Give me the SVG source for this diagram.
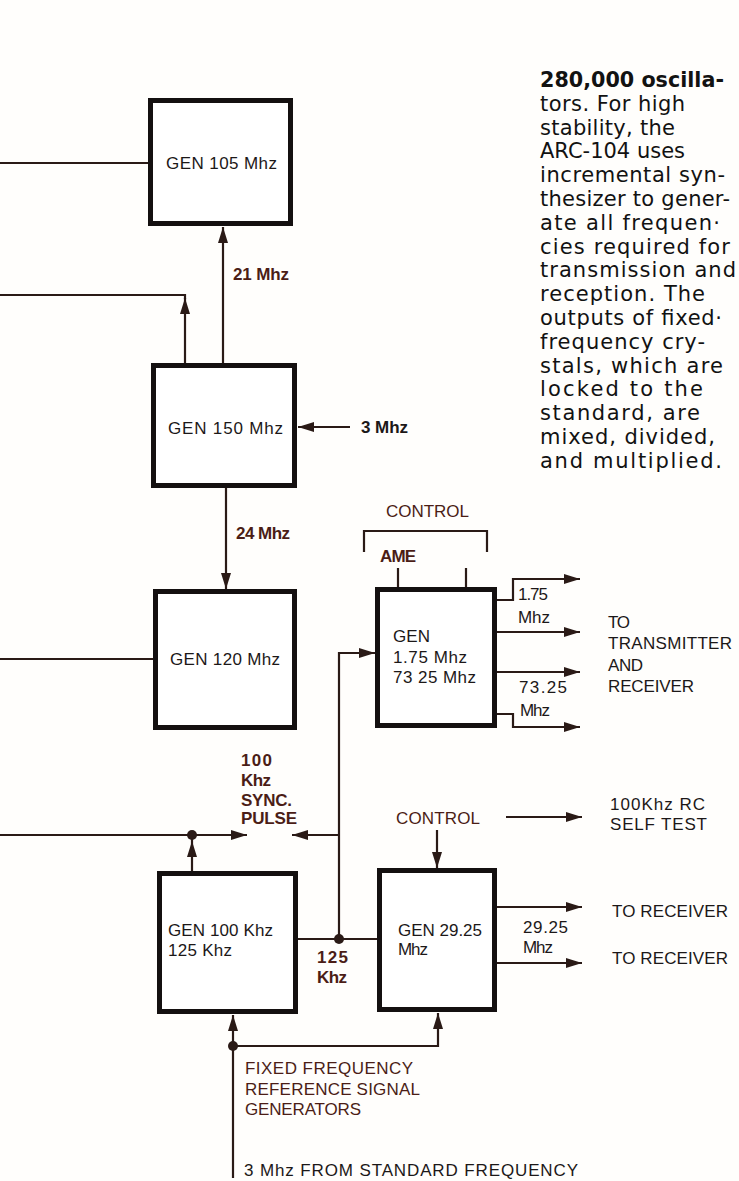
<svg xmlns="http://www.w3.org/2000/svg" width="739" height="1181" viewBox="0 0 739 1181">
<style>
.bg{fill:#fffefc}
.box{fill:#fff;stroke:#141010;stroke-width:5}
.ln{fill:none;stroke:#2a1a16;stroke-width:2.2}
.dot{fill:#2a1a16}
.t{font-family:"Liberation Sans",Arial,sans-serif;font-size:17px;fill:#1c1818}
.r{fill:#4b1d16}
.b{font-weight:bold}
.p{font-family:"DejaVu Sans",Verdana,sans-serif;font-size:21px;fill:#121212}
</style>
<defs>
<marker id="ah" viewBox="0 0 16 10" refX="16" refY="5" markerWidth="16" markerHeight="10" orient="auto" markerUnits="userSpaceOnUse">
<path d="M0,0 L16,5 L0,10 z" fill="#2a1a16"/>
</marker>
</defs>
<rect class="bg" x="0" y="0" width="739" height="1181"/>

<g id="connectors">
<path class="ln" d="M0,163 H148"/>
<path class="ln" d="M223,363 V227" marker-end="url(#ah)"/>
<path class="ln" d="M0,295 H185 V299"/>
<path class="ln" d="M185,363 V298" marker-end="url(#ah)"/>
<path class="ln" d="M350,427 H298" marker-end="url(#ah)"/>
<path class="ln" d="M226,488 V589" marker-end="url(#ah)"/>
<path class="ln" d="M0,659 H153"/>
<path class="ln" d="M364,552 V531 H487 V552"/>
<path class="ln" d="M398,568 V587"/>
<path class="ln" d="M466,568 V587"/>
<path class="ln" d="M497,600 H513 V579 H580" marker-end="url(#ah)"/>
<path class="ln" d="M497,632 H580" marker-end="url(#ah)"/>
<path class="ln" d="M497,672 H580" marker-end="url(#ah)"/>
<path class="ln" d="M497,714 H513 V727 H580" marker-end="url(#ah)"/>
<path class="ln" d="M339,939 V653 H375" marker-end="url(#ah)"/>
<path class="ln" d="M339,835 H292" marker-end="url(#ah)"/>
<path class="ln" d="M0,835 H247" marker-end="url(#ah)"/>
<path class="ln" d="M192,871 V841" marker-end="url(#ah)"/>
<path class="ln" d="M192,841 V835"/>
<circle class="dot" cx="192" cy="835" r="5"/>
<path class="ln" d="M298,939 H377"/>
<circle class="dot" cx="339" cy="939" r="5"/>
<path class="ln" d="M437,830 V868" marker-end="url(#ah)"/>
<path class="ln" d="M506,817 H582" marker-end="url(#ah)"/>
<path class="ln" d="M497,907 H582" marker-end="url(#ah)"/>
<path class="ln" d="M497,963 H582" marker-end="url(#ah)"/>
<path class="ln" d="M233,1178 V1015" marker-end="url(#ah)"/>
<path class="ln" d="M233,1046 H438 V1013" marker-end="url(#ah)"/>
<circle class="dot" cx="233" cy="1046" r="5"/>
</g>

<g id="gen105">
<rect class="box" x="150.5" y="100.5" width="140" height="123"/>
<text class="t" x="166" y="169" textLength="111" lengthAdjust="spacing">GEN 105 Mhz</text>
</g>
<g id="gen150">
<rect class="box" x="153.5" y="365.5" width="141" height="120"/>
<text class="t" x="168" y="434" textLength="115" lengthAdjust="spacing">GEN 150 Mhz</text>
</g>
<g id="gen120">
<rect class="box" x="155.5" y="591.5" width="139" height="136"/>
<text class="t" x="170" y="665" textLength="110" lengthAdjust="spacing">GEN 120 Mhz</text>
</g>
<g id="gen175">
<rect class="box" x="377.5" y="589.5" width="117" height="136"/>
<text class="t" x="393" y="642" textLength="37" lengthAdjust="spacing">GEN</text>
<text class="t" x="393" y="663" textLength="74" lengthAdjust="spacing">1.75 Mhz</text>
<text class="t" x="393" y="683" textLength="83" lengthAdjust="spacing">73 25 Mhz</text>
</g>
<g id="gen100k">
<rect class="box" x="159.5" y="873.5" width="136" height="138"/>
<text class="t" x="168" y="936" textLength="105" lengthAdjust="spacing">GEN 100 Khz</text>
<text class="t" x="168" y="956" textLength="64" lengthAdjust="spacing">125 Khz</text>
</g>
<g id="gen2925">
<rect class="box" x="379.5" y="870.5" width="115" height="139"/>
<text class="t" x="398" y="936" textLength="84" lengthAdjust="spacing">GEN 29.25</text>
<text class="t" x="398" y="955" textLength="30" lengthAdjust="spacing">Mhz</text>
</g>

<g id="labels">
<text class="t r b" x="233" y="280" textLength="56" lengthAdjust="spacing">21 Mhz</text>
<text class="t b" x="361" y="433" textLength="47" lengthAdjust="spacing">3 Mhz</text>
<text class="t r b" x="236" y="539" textLength="54" lengthAdjust="spacing">24 Mhz</text>
<text class="t r" x="386" y="517" textLength="83" lengthAdjust="spacing">CONTROL</text>
<text class="t r b" x="380" y="562" textLength="36" lengthAdjust="spacing">AME</text>
<text class="t" x="518" y="600" textLength="30" lengthAdjust="spacing">1.75</text>
<text class="t" x="518" y="623" textLength="32" lengthAdjust="spacing">Mhz</text>
<text class="t" x="519" y="693" textLength="48" lengthAdjust="spacing">73.25</text>
<text class="t" x="520" y="716" textLength="30" lengthAdjust="spacing">Mhz</text>
<text class="t" x="608" y="628" textLength="22" lengthAdjust="spacing">TO</text>
<text class="t" x="608" y="649" textLength="124" lengthAdjust="spacing">TRANSMITTER</text>
<text class="t" x="608" y="671" textLength="35" lengthAdjust="spacing">AND</text>
<text class="t" x="608" y="692" textLength="86" lengthAdjust="spacing">RECEIVER</text>
<text class="t r b" x="241" y="766" textLength="31" lengthAdjust="spacing">100</text>
<text class="t r b" x="241" y="786" textLength="30" lengthAdjust="spacing">Khz</text>
<text class="t r b" x="241" y="806" textLength="51" lengthAdjust="spacing">SYNC.</text>
<text class="t r b" x="241" y="824" textLength="56" lengthAdjust="spacing">PULSE</text>
<text class="t r" x="396" y="824" textLength="84" lengthAdjust="spacing">CONTROL</text>
<text class="t" x="610" y="810" textLength="95" lengthAdjust="spacing">100Khz RC</text>
<text class="t" x="610" y="830" textLength="97" lengthAdjust="spacing">SELF TEST</text>
<text class="t r b" x="317" y="963" textLength="31" lengthAdjust="spacing">125</text>
<text class="t r b" x="317" y="983" textLength="30" lengthAdjust="spacing">Khz</text>
<text class="t" x="523" y="933" textLength="45" lengthAdjust="spacing">29.25</text>
<text class="t" x="523" y="953" textLength="30" lengthAdjust="spacing">Mhz</text>
<text class="t" x="612" y="917" textLength="116" lengthAdjust="spacing">TO RECEIVER</text>
<text class="t" x="612" y="964" textLength="116" lengthAdjust="spacing">TO RECEIVER</text>
<text class="t r" x="245" y="1074" textLength="168" lengthAdjust="spacing">FIXED FREQUENCY</text>
<text class="t r" x="245" y="1095" textLength="175" lengthAdjust="spacing">REFERENCE SIGNAL</text>
<text class="t r" x="245" y="1115" textLength="116" lengthAdjust="spacing">GENERATORS</text>
<text class="t" x="244" y="1176" textLength="334" lengthAdjust="spacing">3 Mhz FROM STANDARD FREQUENCY</text>
</g>

<g id="caption">
<text class="p" x="540" y="87" font-weight="bold" textLength="184" lengthAdjust="spacingAndGlyphs">280,000 oscilla-</text>
<text class="p" x="540" y="111" textLength="145" lengthAdjust="spacing">tors. For high</text>
<text class="p" x="540" y="135" textLength="135" lengthAdjust="spacing">stability, the</text>
<text class="p" x="540" y="158" textLength="145" lengthAdjust="spacing">ARC-104 uses</text>
<text class="p" x="540" y="182" textLength="185" lengthAdjust="spacing">incremental syn-</text>
<text class="p" x="540" y="206" textLength="190" lengthAdjust="spacing">thesizer to gener-</text>
<text class="p" x="540" y="230" textLength="180" lengthAdjust="spacing">ate all frequen·</text>
<text class="p" x="540" y="254" textLength="190" lengthAdjust="spacing">cies required for</text>
<text class="p" x="540" y="277" textLength="196" lengthAdjust="spacing">transmission and</text>
<text class="p" x="540" y="301" textLength="165" lengthAdjust="spacing">reception. The</text>
<text class="p" x="540" y="325" textLength="182" lengthAdjust="spacing">outputs of fixed·</text>
<text class="p" x="540" y="349" textLength="165" lengthAdjust="spacing">frequency cry-</text>
<text class="p" x="540" y="373" textLength="183" lengthAdjust="spacing">stals, which are</text>
<text class="p" x="540" y="396" textLength="163" lengthAdjust="spacing">locked to the</text>
<text class="p" x="540" y="420" textLength="160" lengthAdjust="spacing">standard, are</text>
<text class="p" x="540" y="444" textLength="175" lengthAdjust="spacing">mixed, divided,</text>
<text class="p" x="540" y="468" textLength="182" lengthAdjust="spacing">and multiplied.</text>
</g>
</svg>
